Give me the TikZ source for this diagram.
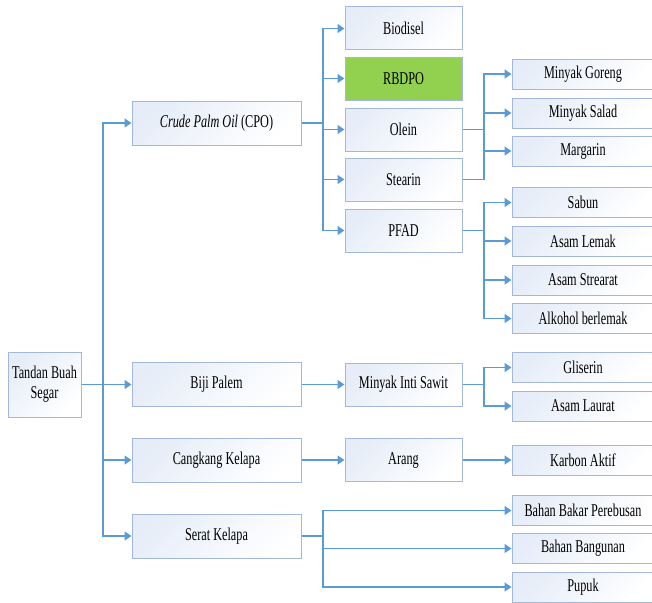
\documentclass[tikz,border=0pt]{standalone}
\usepackage{fontspec}
\setmainfont{Liberation Serif}[FakeStretch=0.68]
\usetikzlibrary{arrows.meta,positioning,calc}
\definecolor{linkblue}{HTML}{5B9BD5}
\definecolor{boxline}{HTML}{A3B8D8}
\definecolor{boxfill}{HTML}{E6EDF8}
\definecolor{rbdgreen}{HTML}{92D050}

\begin{document}
\begin{tikzpicture}[
  x=1pt,y=-1pt,
  font=\fontsize{18}{20}\selectfont,
  box/.style={draw=boxline,line width=1pt,align=center,inner sep=0pt,
              top color=boxfill,bottom color=white,shading angle=45},
  main/.style={box,minimum width=169pt,minimum height=44pt},
  prod/.style={box,minimum width=117pt,minimum height=43pt},
  leaf/.style={box,minimum width=142pt,minimum height=30pt},
  link/.style={draw=linkblue,line width=1.8pt},
  arr/.style={draw=linkblue,line width=1.3pt,-{Triangle[length=7pt,width=9pt]}},
]
\useasboundingbox (0,0) rectangle (652,602);
% ----- source
\node[box,minimum width=73pt,minimum height=65pt] (tbs) at (44.5,384.5) {Tandan Buah\\Segar};
% ----- first split
\node[main] (cpo)      at (216.5,123)   {\textit{Crude Palm Oil} (CPO)};
\node[main] (biji)     at (216.5,384.5) {Biji Palem};
\node[main] (cangkang) at (216.5,460)   {Cangkang Kelapa};
\node[main] (serat)    at (216.5,536)   {Serat Kelapa};
% ----- second level
\node[prod] (biodisel) at (403.5,28.5)  {Biodisel};
\node[prod,top color=rbdgreen,bottom color=rbdgreen] (rbdpo) at (403.5,78.5) {RBDPO};
\node[prod] (olein)    at (403.5,129.5) {Olein};
\node[prod] (stearin)  at (403.5,179.5) {Stearin};
\node[prod] (pfad)     at (403.5,230.5) {PFAD};
\node[prod] (mis)      at (403.5,384.5) {Minyak Inti Sawit};
\node[prod] (arang)    at (403.5,460)   {Arang};
% ----- end products
\node[leaf] (goreng)   at (583,74)    {Minyak Goreng};
\node[leaf] (salad)    at (583,113)   {Minyak Salad};
\node[leaf] (margarin) at (583,151)   {Margarin};
\node[leaf] (sabun)    at (583,202.5) {Sabun};
\node[leaf] (lemak)    at (583,241)   {Asam Lemak};
\node[leaf] (strearat) at (583,280)   {Asam Strearat};
\node[leaf] (alkohol)  at (583,318.5) {Alkohol berlemak};
\node[leaf] (gliserin) at (583,367.5) {Gliserin};
\node[leaf] (laurat)   at (583,406)   {Asam Laurat};
\node[leaf] (karbon)   at (583,460)   {Karbon Aktif};
\node[leaf] (bbp)      at (583,510.5) {Bahan Bakar Perebusan};
\node[leaf] (bb)       at (583,548.5) {Bahan Bangunan};
\node[leaf] (pupuk)    at (583,587)   {Pupuk};
% ----- trunk
\coordinate (trunk) at (103,384.5);
\draw[arr] (tbs) -- (biji);
\foreach \n in {cpo,cangkang,serat} \draw[arr] (trunk) |- (\n);
% ----- CPO
\draw[link] (cpo.east) -- (323,123) coordinate (cpobus);
\foreach \n in {biodisel,rbdpo,olein,stearin,pfad} \draw[arr] (cpobus) |- (\n);
% ----- olein / stearin
\draw[link] (olein.east) -- (484,129.5) coordinate (oilbus);
\draw[link] (stearin.east) -| (oilbus);
\foreach \n in {goreng,salad,margarin} \draw[arr] (oilbus) |- (\n);
% ----- PFAD
\draw[link] (pfad.east) -- (484,230.5) coordinate (pfadbus);
\foreach \n in {sabun,lemak,strearat,alkohol} \draw[arr] (pfadbus) |- (\n);
% ----- kernel
\draw[arr] (biji) -- (mis);
\draw[link] (mis.east) -- (484,384.5) coordinate (misbus);
\foreach \n in {gliserin,laurat} \draw[arr] (misbus) |- (\n);
% ----- shell
\draw[arr] (cangkang) -- (arang);
\draw[arr] (arang) -- (karbon);
% ----- fibre
\draw[link] (serat.east) -- (323,536) coordinate (seratbus);
\foreach \n in {bbp,bb,pupuk} \draw[arr] (seratbus) |- (\n);
\end{tikzpicture}
\end{document}
